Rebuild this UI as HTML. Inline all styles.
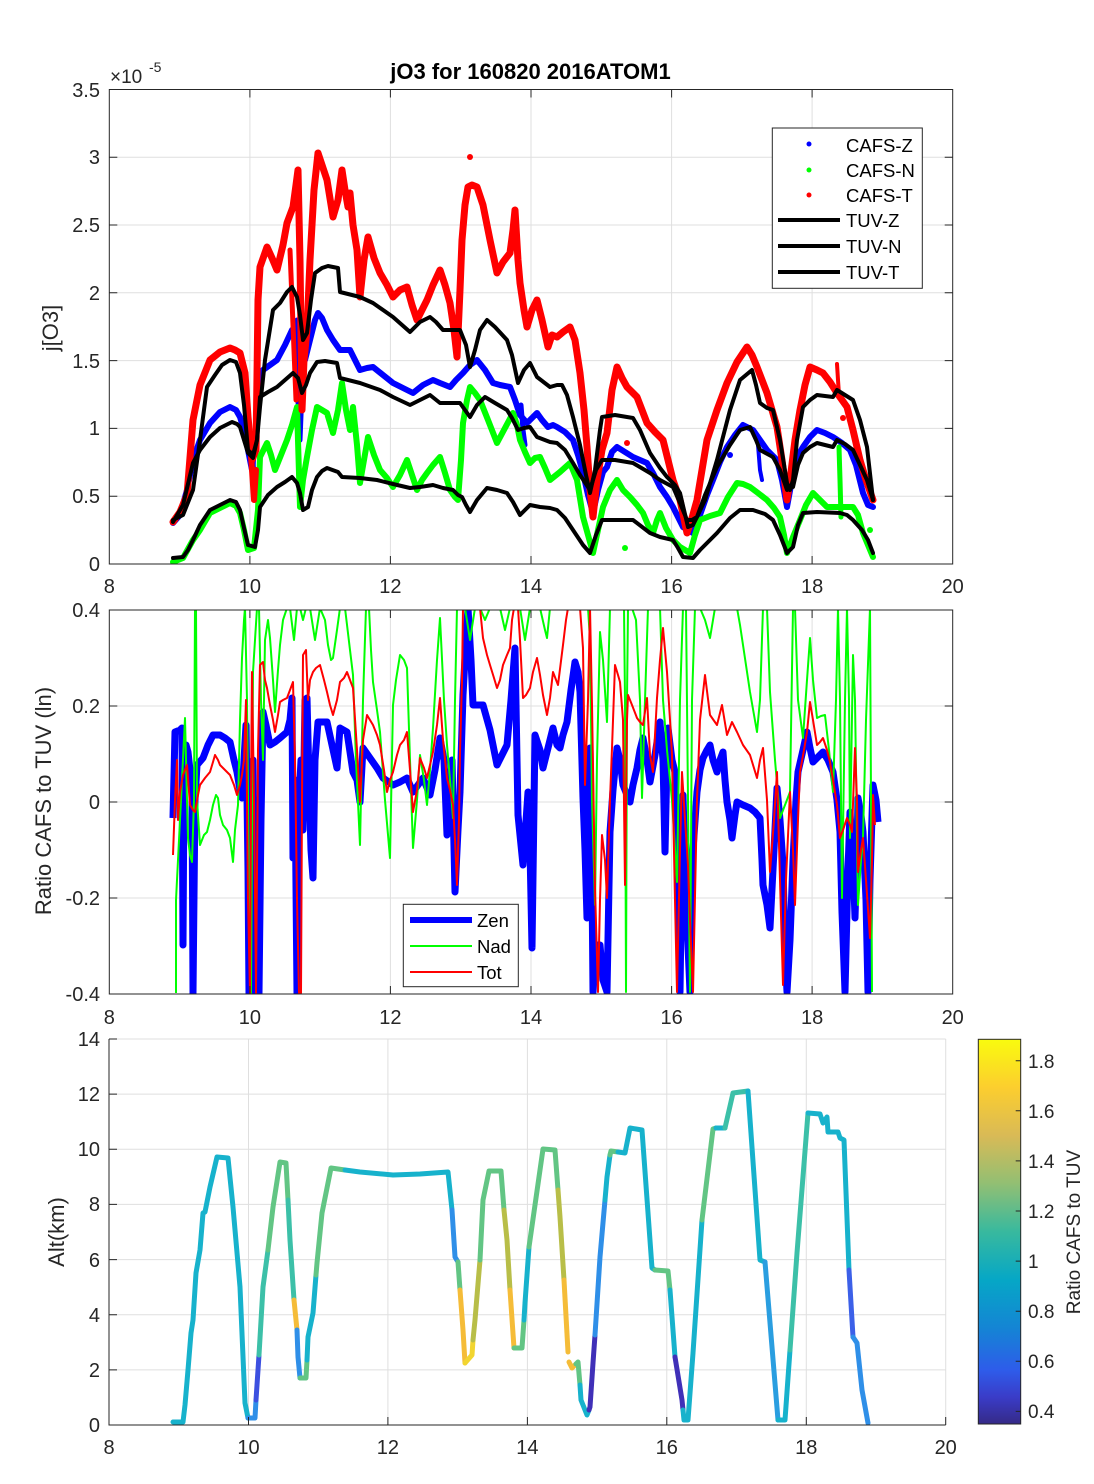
<!DOCTYPE html>
<html><head><meta charset="utf-8"><style>html,body{margin:0;padding:0;background:#fff}svg{display:block}</style></head>
<body>
<svg width="1094" height="1484" viewBox="0 0 1094 1484" xmlns="http://www.w3.org/2000/svg" font-family="'Liberation Sans', Arial, sans-serif">
<defs>
<clipPath id="c1"><rect x="109.3" y="89.5" width="843.4" height="474.5"/></clipPath>
<clipPath id="c2"><rect x="109.3" y="610" width="843.4" height="384"/></clipPath>
<linearGradient id="par" x1="0" y1="1" x2="0" y2="0">
<stop offset="0" stop-color="#352a87"/><stop offset="0.07" stop-color="#3a3cc8"/><stop offset="0.14" stop-color="#2e5cea"/><stop offset="0.25" stop-color="#1485d4"/><stop offset="0.375" stop-color="#06a7c6"/><stop offset="0.5" stop-color="#38b99e"/><stop offset="0.625" stop-color="#92bf73"/><stop offset="0.75" stop-color="#d9ba56"/><stop offset="0.875" stop-color="#fcce2e"/><stop offset="1" stop-color="#f9fb0e"/>
</linearGradient>
</defs>
<rect width="1094" height="1484" fill="#fff"/>

<!-- ===== PANEL 1 ===== -->
<g stroke="#dfdfdf" stroke-width="1">
<line x1="249.9" y1="89.5" x2="249.9" y2="564"/><line x1="390.4" y1="89.5" x2="390.4" y2="564"/><line x1="531" y1="89.5" x2="531" y2="564"/><line x1="671.6" y1="89.5" x2="671.6" y2="564"/><line x1="812.1" y1="89.5" x2="812.1" y2="564"/>
<line x1="109.3" y1="496.2" x2="952.7" y2="496.2"/><line x1="109.3" y1="428.4" x2="952.7" y2="428.4"/><line x1="109.3" y1="360.6" x2="952.7" y2="360.6"/><line x1="109.3" y1="292.8" x2="952.7" y2="292.8"/><line x1="109.3" y1="225" x2="952.7" y2="225"/><line x1="109.3" y1="157.3" x2="952.7" y2="157.3"/>
</g>
<g clip-path="url(#c1)" fill="none" stroke-linejoin="round" stroke-linecap="round">
<polyline stroke="#0000ff" stroke-width="6" points="173,523 180,515 187,490 193,460 200,440 210,423 220,412 230,407 236,410 240,417 244,430 248,450 252,470 256,430 260,385 263,370 270,365 277,360 285,345 292,330 296,340 300,350 305,360 310,340 315,320 318,313 322,318 327,330 333,340 340,350 350,350 355,360 360,370 367,368 373,367 383,375 393,383 403,388 413,393 423,385 433,380 440,383 450,387 456,380 463,373 470,365 477,360 485,370 493,383 500,385 510,387 515,400 520,415 527,423 532,418 537,413 542,420 548,427 553,425 557,427 565,432 573,440 578,455 583,473 588,495 593,513 598,490 603,472 607,467 612,452 617,447 625,452 633,457 640,460 647,463 653,473 660,487 667,497 673,507 678,517 683,527 688,530 693,533 700,515 707,495 713,480 720,462 727,447 735,435 743,425 753,430 760,440 767,450 772,455 777,460 782,480 787,507 792,480 797,457 803,447 810,437 817,430 825,433 833,437 842,443 850,450 856,465 863,493 868,505 873,507"/>
<polyline stroke="#0000ff" stroke-width="5" points="297,320 298,400 300,440 302,390 304,330"/>
<polyline stroke="#0000ff" stroke-width="5" points="252,440 254,480 256,500"/>
<polyline stroke="#0000ff" stroke-width="5" points="521,405 523,430 525,445"/>
<polyline stroke="#0000ff" stroke-width="4" points="758,445 760,470 762,480"/>
<polyline stroke="#00ff00" stroke-width="6" points="173,562 183,558 193,540 200,530 210,513 220,508 230,503 236,506 240,513 244,530 248,550 254,548 258,510 260,457 267,443 271,455 275,470 281,455 287,440 292,425 297,407 300,507 303,480 307,457 312,430 317,407 322,410 327,413 333,433 338,410 342,383 346,410 350,430 353,407 357,445 360,483 364,460 368,437 374,455 380,470 387,478 393,487 400,475 407,460 412,475 417,490 422,480 427,473 433,465 440,457 445,473 450,490 455,497 458,500 461,460 463,423 467,400 470,387 475,393 480,400 488,420 497,443 505,428 513,413 517,425 520,440 525,452 530,463 535,458 540,457 545,468 550,480 560,472 570,463 577,480 583,517 588,535 593,553 598,530 603,507 610,490 617,480 623,490 630,497 637,505 643,513 648,525 653,533 657,520 660,513 666,528 673,540 680,547 690,553 695,535 700,520 710,516 720,513 728,497 737,483 743,484 750,487 758,493 767,500 774,508 780,517 784,535 787,553 793,537 800,520 806,505 813,493 820,500 827,507 840,507 853,507 858,515 863,533 868,545 873,557"/>
<polyline stroke="#00ff00" stroke-width="5" points="839,447 840,480 841,517"/>
<polyline stroke="#ff0000" stroke-width="7" points="173,522 180,512 187,495 193,420 200,385 210,360 220,352 230,348 235,350 240,353 245,373 248,417 252,460 256,450 258,300 260,267 267,247 272,258 277,270 283,245 287,223 293,207 296,185 298,170 300,260 302,410 304,360 307,330 310,260 314,190 318,153 322,165 327,180 333,217 338,200 342,170 345,190 348,207 350,193 353,225 357,250 360,297 364,260 368,237 374,258 380,273 387,285 393,297 400,290 407,287 412,305 417,320 422,310 427,300 433,285 440,270 445,285 450,303 454,330 457,357 460,290 462,240 465,205 468,187 472,185 477,187 483,205 490,240 497,273 503,262 510,253 513,230 515,210 518,260 520,283 524,310 527,327 532,310 537,300 542,320 548,347 552,335 557,337 563,332 570,327 575,340 580,373 584,410 587,447 590,490 593,517 597,480 602,450 607,433 612,390 617,367 622,378 627,387 637,397 647,423 655,432 663,440 668,460 673,480 680,500 687,533 692,518 697,500 702,470 707,440 717,410 727,383 737,362 747,347 752,355 757,367 762,380 767,393 772,410 777,427 782,460 787,500 790,480 795,440 800,410 805,385 810,367 817,370 823,373 830,382 837,393 847,407 853,430 860,460 866,480 873,500"/>
<polyline stroke="#ff0000" stroke-width="6" points="250,440 252,470 254,500 256,470"/>
<polyline stroke="#ff0000" stroke-width="5" points="290,250 292,300 294,350 296,400"/>
<polyline stroke="#ff0000" stroke-width="4" points="837,364 838,380 839,395"/>
<circle cx="470" cy="157" r="3" fill="#ff0000" stroke="none"/>
<circle cx="627" cy="443" r="3" fill="#ff0000" stroke="none"/>
<circle cx="843" cy="418" r="3" fill="#ff0000" stroke="none"/>
<circle cx="625" cy="548" r="3" fill="#00ff00" stroke="none"/>
<circle cx="870" cy="530" r="3" fill="#00ff00" stroke="none"/>
<circle cx="730" cy="455" r="3" fill="#0000ff" stroke="none"/>
<polyline stroke="#000" stroke-width="4" points="173,520 183,515 193,490 200,440 207,387 215,375 222,365 230,360 236,362 240,373 244,405 248,450 253,455 257,440 260,407 265,360 273,310 280,303 287,292 292,287 297,297 300,315 303,340 307,333 311,300 315,273 322,268 328,266 338,268 340,292 360,297 373,303 393,317 410,332 420,322 430,317 436,322 443,330 460,330 466,345 470,367 475,350 480,330 487,320 495,327 507,340 512,355 518,383 524,370 530,363 537,377 550,387 557,385 562,385 567,395 573,417 580,445 586,475 590,493 595,470 600,430 602,417 615,415 633,418 640,430 650,453 660,468 667,477 675,485 680,493 684,510 688,527 693,525 697,517 705,500 717,460 730,410 740,380 746,375 752,370 756,385 760,403 767,408 773,410 780,440 787,483 790,490 793,480 797,440 803,407 810,400 817,395 833,397 837,390 845,395 853,400 860,420 867,447 873,500"/>
<polyline stroke="#000" stroke-width="4" points="173,522 183,505 193,463 200,450 210,437 220,428 232,422 237,424 240,427 244,440 248,453 253,458 257,440 260,397 268,392 277,387 285,380 293,373 298,378 302,393 306,385 310,373 317,362 325,361 337,363 340,378 360,383 380,390 393,397 410,405 420,400 430,395 440,403 460,403 465,410 470,417 477,405 485,397 495,403 507,410 512,418 518,430 524,428 530,427 537,437 550,442 557,443 565,450 573,463 580,475 590,490 596,470 602,460 615,460 633,463 650,473 660,480 673,487 680,503 687,520 692,520 697,517 705,495 717,467 730,445 740,430 750,427 756,440 760,450 773,457 780,470 787,490 793,487 798,465 803,453 810,447 817,443 833,447 837,440 845,444 853,450 860,465 867,480 873,500"/>
<polyline stroke="#000" stroke-width="4" points="173,558 183,557 188,550 193,540 200,525 210,510 220,505 230,500 236,502 240,510 244,528 248,545 255,547 258,530 260,507 268,495 277,487 285,482 292,477 297,483 300,493 303,510 308,507 312,490 317,477 322,471 327,468 338,472 342,477 360,478 377,480 393,484 410,488 420,487 433,485 443,488 453,490 458,495 462,497 466,505 470,512 477,500 487,488 497,490 507,493 513,502 520,515 525,510 530,505 540,507 550,508 557,510 565,518 573,530 583,545 590,553 596,535 602,520 633,520 650,533 660,537 673,540 678,548 683,557 693,558 700,550 717,533 730,518 740,510 753,510 765,514 773,520 780,535 787,553 793,547 798,525 803,513 817,512 840,513 847,515 853,520 862,530 868,540 873,553"/>
</g>
<g stroke="#262626" stroke-width="1" fill="none">
<rect x="109.3" y="89.5" width="843.4" height="474.5"/>
<path d="M249.9,564v-8M390.4,564v-8M531,564v-8M671.6,564v-8M812.1,564v-8M249.9,89.5v8M390.4,89.5v8M531,89.5v8M671.6,89.5v8M812.1,89.5v8M109.3,496.2h8M109.3,428.4h8M109.3,360.6h8M109.3,292.8h8M109.3,225h8M109.3,157.3h8M952.7,496.2h-8M952.7,428.4h-8M952.7,360.6h-8M952.7,292.8h-8M952.7,225h-8M952.7,157.3h-8"/>
</g>
<g fill="#262626" font-size="20" text-anchor="end">
<text x="100" y="571">0</text><text x="100" y="503">0.5</text><text x="100" y="435">1</text><text x="100" y="368">1.5</text><text x="100" y="300">2</text><text x="100" y="232">2.5</text><text x="100" y="164">3</text><text x="100" y="97">3.5</text>
</g>
<g fill="#262626" font-size="20" text-anchor="middle">
<text x="109.3" y="593">8</text><text x="249.9" y="593">10</text><text x="390.4" y="593">12</text><text x="531" y="593">14</text><text x="671.6" y="593">16</text><text x="812.1" y="593">18</text><text x="952.7" y="593">20</text>
</g>
<text x="110" y="83" font-size="19" fill="#262626">×10</text>
<text x="149" y="72" font-size="14" fill="#262626">-5</text>
<text x="530.5" y="79" font-size="22" font-weight="bold" text-anchor="middle" fill="#000">jO3 for 160820 2016ATOM1</text>
<text transform="translate(58,328) rotate(-90)" font-size="22" text-anchor="middle" fill="#262626">j[O3]</text>
<!-- legend 1 -->
<rect x="772.3" y="128" width="150" height="160.3" fill="#fff" stroke="#262626" stroke-width="1"/>
<circle cx="809" cy="144" r="2.5" fill="#0000ff"/><circle cx="809" cy="170" r="2.5" fill="#00ff00"/><circle cx="809" cy="195" r="2.5" fill="#ff0000"/>
<g stroke="#000" stroke-width="4"><line x1="778" y1="220" x2="840" y2="220"/><line x1="778" y1="246" x2="840" y2="246"/><line x1="778" y1="272" x2="840" y2="272"/></g>
<g font-size="18.5" fill="#000"><text x="846" y="152">CAFS-Z</text><text x="846" y="177">CAFS-N</text><text x="846" y="202">CAFS-T</text><text x="846" y="227">TUV-Z</text><text x="846" y="253">TUV-N</text><text x="846" y="279">TUV-T</text></g>

<!-- ===== PANEL 2 ===== -->
<g stroke="#dfdfdf" stroke-width="1">
<line x1="249.9" y1="610" x2="249.9" y2="994"/><line x1="390.4" y1="610" x2="390.4" y2="994"/><line x1="531" y1="610" x2="531" y2="994"/><line x1="671.6" y1="610" x2="671.6" y2="994"/><line x1="812.1" y1="610" x2="812.1" y2="994"/>
<line x1="109.3" y1="706" x2="952.7" y2="706"/><line x1="109.3" y1="802" x2="952.7" y2="802"/><line x1="109.3" y1="898" x2="952.7" y2="898"/>
</g>
<g clip-path="url(#c2)" fill="none" stroke-linejoin="round">
<polyline stroke="#0000ff" stroke-width="7" points="173,818 175,732 180,730 182,728 183,945 184,780 186,745 188,752 190,770 192,782 193,993 195,800 197,765 203,758 208,745 213,735 220,735 225,738 230,742 234,760 237,772 240,790 242,798 244,760 246,725 248,870 249,993 251,850 253,760 255,993 257,800 259,993 261,820 263,712 266,725 270,745 275,742 280,738 287,732 290,720 292,698 293,858 295,780 297,993 299,800 301,760 303,830 305,700 307,698 309,780 311,850 313,878 315,760 318,722 327,722 332,745 337,768 340,728 347,732 353,772 357,780 360,802 363,748 370,758 377,768 383,778 393,785 400,782 407,778 413,792 418,785 423,778 430,795 435,770 440,738 444,760 447,835 450,790 452,760 455,892 458,830 460,792 463,695 466,640 468,608 471,660 473,705 483,705 490,730 497,765 502,755 507,745 511,700 515,648 518,815 523,865 528,792 530,850 532,948 535,735 540,750 543,768 548,748 553,728 557,745 560,748 563,735 567,722 571,690 575,662 578,672 580,692 583,798 585,850 587,918 589,800 590,748 592,880 593,992 596,945 600,945 603,980 607,992 610,832 613,790 617,748 620,760 623,785 627,795 630,802 633,785 637,768 640,750 643,738 647,760 650,782 655,755 660,722 663,760 665,852 667,760 668,728 672,760 675,772 678,900 680,992 682,850 683,795 686,900 690,992 693,850 697,792 700,770 703,758 707,750 710,745 713,760 717,772 720,760 723,752 725,780 727,802 730,820 732,838 735,815 737,802 743,805 750,808 755,812 760,818 762,860 763,885 767,905 770,928 774,850 777,788 780,820 783,865 785,950 787,992 790,940 793,860 796,800 798,772 803,750 807,732 810,748 813,762 818,757 823,752 828,760 833,772 837,800 840,832 842,912 845,992 848,870 850,812 853,860 855,918 857,850 858,798 861,815 863,832 866,900 868,992 870,880 873,785 876,800 878,822"/>
<polyline stroke="#00ff00" stroke-width="2" points="176,993 176,900 178,860 181,800 185,718 187,800 188,838 190,855 192,862 194,800 195,608 196,608 197,800 200,845 204,835 207,832 210,820 213,805 216,795 218,798 220,815 223,825 227,830 230,838 233,862 235,830 238,805 240,720 242,658 244,620 245,608 247,700 249,900 251,993 253,672 255,640 257,608 259,608 261,700 263,760 265,640 268,620 270,638 273,680 275,712 278,670 280,645 283,620 287,608 290,608 294,640 297,608 300,608 303,620 306,608 310,608 315,640 320,608 325,620 328,645 331,660 333,658 337,630 340,608 345,608 350,650 353,675 356,760 360,845 363,700 366,608 369,608 371,650 373,682 377,710 380,732 385,800 390,858 393,705 396,680 400,655 404,660 407,668 410,760 413,848 417,800 420,755 424,780 427,805 430,770 433,728 437,660 440,618 444,700 447,745 450,780 453,818 455,700 457,608 465,608 470,640 475,608 480,608 485,620 490,608 500,608 505,630 510,608 520,608 525,640 530,608 540,608 545,630 547,638 550,608 560,608 570,608 580,608 588,608 590,640 592,800 595,905 597,760 600,632 603,660 607,722 610,608 616,608 620,608 624,608 625,700 626,992 627,700 628,608 632,608 636,620 640,700 642,798 645,700 648,608 655,608 660,608 663,700 667,750 672,800 677,882 680,700 683,608 686,608 690,992 692,700 695,608 700,608 705,620 710,638 715,608 720,608 730,608 737,608 740,625 743,645 750,692 757,732 760,700 763,608 767,608 770,692 775,760 780,818 785,805 790,792 793,608 795,608 798,700 803,738 807,680 810,638 813,680 817,718 821,716 825,715 829,750 833,792 836,700 838,608 840,700 842,898 845,700 847,608 849,700 850,838 853,655 855,700 858,905 861,860 863,838 866,720 870,608 871,800 872,992"/>
<polyline stroke="#ff0000" stroke-width="2" points="173,855 175,800 177,760 178,820 180,792 183,775 187,765 190,805 193,810 195,812 198,795 200,785 205,778 210,772 213,762 215,755 218,760 220,765 225,770 230,775 234,785 237,795 240,785 242,775 244,760 246,700 248,900 250,993 251,800 252,672 254,800 256,993 258,750 260,665 263,662 265,680 267,688 270,705 273,720 275,732 278,715 280,702 283,700 287,698 290,690 293,682 295,760 297,900 299,993 301,993 302,800 303,655 306,650 308,700 310,680 313,672 316,668 320,665 324,680 327,692 330,705 333,715 337,700 340,682 344,678 347,672 350,680 353,688 357,750 360,802 363,740 367,715 370,720 373,725 377,735 380,745 384,770 387,792 390,780 393,772 397,755 400,745 404,740 407,732 410,770 413,812 417,790 420,758 424,768 427,778 430,765 433,752 437,725 440,698 443,740 447,778 450,790 453,805 455,840 457,885 459,820 460,752 462,680 463,608 468,608 472,608 476,608 480,608 483,638 487,655 490,665 494,678 497,688 500,680 503,665 507,655 510,648 512,620 514,608 518,608 520,640 523,698 526,695 530,688 533,672 537,658 540,675 543,695 547,715 550,698 553,672 558,685 563,645 566,620 568,608 580,608 583,648 585,785 588,700 590,608 592,705 595,888 598,992 600,900 602,835 605,860 607,898 610,800 612,748 615,665 618,675 620,682 623,720 625,885 627,720 628,695 632,705 637,718 640,722 643,725 647,698 650,755 653,772 657,698 660,660 663,628 667,672 670,720 672,755 675,900 677,992 680,850 682,772 685,820 688,865 690,920 693,992 697,800 700,720 705,675 710,715 717,725 722,705 727,735 732,722 737,732 743,745 750,755 757,778 760,760 763,748 767,800 770,872 774,820 777,772 780,880 783,985 786,880 790,792 793,850 795,905 798,820 800,772 804,750 807,732 810,702 813,720 817,745 820,742 823,738 827,750 830,762 833,780 837,805 840,838 843,830 847,818 850,825 852,832 855,748 857,800 858,872 861,850 863,838 866,880 870,938 872,860 873,795 875,825"/>
</g>
<g stroke="#262626" stroke-width="1" fill="none">
<rect x="109.3" y="610" width="843.4" height="384"/>
<path d="M249.9,994v-8M390.4,994v-8M531,994v-8M671.6,994v-8M812.1,994v-8M249.9,610v8M390.4,610v8M531,610v8M671.6,610v8M812.1,610v8M109.3,706h8M109.3,802h8M109.3,898h8M952.7,706h-8M952.7,802h-8M952.7,898h-8"/>
</g>
<g fill="#262626" font-size="20" text-anchor="end">
<text x="100" y="617">0.4</text><text x="100" y="713">0.2</text><text x="100" y="809">0</text><text x="100" y="905">-0.2</text><text x="100" y="1001">-0.4</text>
</g>
<g fill="#262626" font-size="20" text-anchor="middle">
<text x="109.3" y="1024">8</text><text x="249.9" y="1024">10</text><text x="390.4" y="1024">12</text><text x="531" y="1024">14</text><text x="671.6" y="1024">16</text><text x="812.1" y="1024">18</text><text x="952.7" y="1024">20</text>
</g>
<text transform="translate(51,801) rotate(-90)" font-size="22" text-anchor="middle" fill="#262626">Ratio CAFS to TUV (ln)</text>
<!-- legend 2 -->
<rect x="403.3" y="904.3" width="115" height="82.4" fill="#fff" stroke="#262626" stroke-width="1"/>
<line x1="410" y1="920" x2="472" y2="920" stroke="#0000ff" stroke-width="6"/>
<line x1="410" y1="946" x2="472" y2="946" stroke="#00ff00" stroke-width="2"/>
<line x1="410" y1="972" x2="472" y2="972" stroke="#ff0000" stroke-width="2"/>
<g font-size="18.5" fill="#000"><text x="477" y="927">Zen</text><text x="477" y="953">Nad</text><text x="477" y="979">Tot</text></g>

<!-- ===== PANEL 3 ===== -->
<g stroke="#dfdfdf" stroke-width="1">
<line x1="248.5" y1="1039" x2="248.5" y2="1425"/><line x1="387.9" y1="1039" x2="387.9" y2="1425"/><line x1="527.4" y1="1039" x2="527.4" y2="1425"/><line x1="666.8" y1="1039" x2="666.8" y2="1425"/><line x1="806.3" y1="1039" x2="806.3" y2="1425"/><line x1="945.7" y1="1039" x2="945.7" y2="1425"/>
<line x1="109" y1="1369.9" x2="945.7" y2="1369.9"/><line x1="109" y1="1314.7" x2="945.7" y2="1314.7"/><line x1="109" y1="1259.6" x2="945.7" y2="1259.6"/><line x1="109" y1="1204.4" x2="945.7" y2="1204.4"/><line x1="109" y1="1149.3" x2="945.7" y2="1149.3"/><line x1="109" y1="1094.1" x2="945.7" y2="1094.1"/><line x1="109" y1="1039" x2="945.7" y2="1039"/>
</g>
<g fill="none" stroke-width="5" stroke-linejoin="round" stroke-linecap="round">
<polyline stroke="#17b2cc" points="173,1422 183,1422 185,1405 188,1370 191,1333 193,1320 196,1273 200,1250 203,1213 205,1212 210,1187 217,1157 228,1158 233,1207 240,1287 245,1403 248,1418"/>
<polyline stroke="#2f8fe8" points="248,1418 255,1418 256,1400"/>
<polyline stroke="#3c50e0" points="256,1400 258,1370 259,1355"/>
<polyline stroke="#3cc0a8" points="259,1355 263,1287 268,1250"/>
<polyline stroke="#62c584" points="268,1250 273,1207 280,1162 286,1163 288,1200"/>
<polyline stroke="#3cc0a8" points="288,1200 290,1240 294,1300"/>
<polyline stroke="#f5bc38" points="294,1300 297,1330"/>
<polyline stroke="#2f8fe8" points="297,1330 298,1357 300,1378"/>
<polyline stroke="#62c584" points="300,1378 306,1378 307,1360"/>
<polyline stroke="#17b2cc" points="307,1360 308,1337 313,1313 316,1275"/>
<polyline stroke="#62c584" points="316,1275 317,1263 322,1213 331,1168 345,1170"/>
<polyline stroke="#17b2cc" points="345,1170 360,1172 393,1175 420,1174 448,1172 452,1210"/>
<polyline stroke="#2f8fe8" points="452,1210 455,1257 458,1262"/>
<polyline stroke="#62c584" points="458,1262 460,1290"/>
<polyline stroke="#f5bc38" points="460,1290 463,1330 465,1363"/>
<polyline stroke="#f2d530" points="465,1363 472,1355 473,1340"/>
<polyline stroke="#b8be48" points="473,1340 475,1320 480,1260"/>
<polyline stroke="#62c584" points="480,1260 483,1200 489,1171 501,1171 504,1210"/>
<polyline stroke="#b8be48" points="504,1210 507,1240 510,1290"/>
<polyline stroke="#f5bc38" points="510,1290 514,1348"/>
<polyline stroke="#62c584" points="514,1348 522,1348 524,1320"/>
<polyline stroke="#17b2cc" points="524,1320 525,1303 529,1247"/>
<polyline stroke="#62c584" points="529,1247 543,1149 555,1150 558,1190"/>
<polyline stroke="#b8be48" points="558,1190 560,1217 564,1280"/>
<polyline stroke="#f5bc38" points="564,1280 568,1352"/>
<polyline stroke="#f5bc38" points="569,1362 572,1368 576,1364"/>
<polyline stroke="#62c584" points="576,1364 578,1362 580,1385"/>
<polyline stroke="#17b2cc" points="580,1385 581,1400 587,1415 589,1410"/>
<polyline stroke="#4030b8" points="589,1410 590,1407 593,1363 595,1335"/>
<polyline stroke="#2f8fe8" points="595,1335 600,1257 605,1200"/>
<polyline stroke="#17b2cc" points="605,1200 607,1177 610,1155"/>
<polyline stroke="#62c584" points="610,1155 611,1151 618,1152"/>
<polyline stroke="#17b2cc" points="618,1152 625,1153 630,1128 642,1130 652,1268 655,1270"/>
<polyline stroke="#62c584" points="655,1270 668,1271 670,1290"/>
<polyline stroke="#17b2cc" points="670,1290 675,1357"/>
<polyline stroke="#4030b8" points="675,1357 682,1400 683,1410"/>
<polyline stroke="#17b2cc" points="683,1410 684,1420 688,1420 693,1353 702,1220"/>
<polyline stroke="#62c584" points="702,1220 713,1129 716,1128"/>
<polyline stroke="#17b2cc" points="716,1128 725,1128"/>
<polyline stroke="#3cc0a8" points="725,1128 733,1093 748,1091"/>
<polyline stroke="#17b2cc" points="748,1091 760,1260 765,1262"/>
<polyline stroke="#2a9ee0" points="765,1262 778,1420"/>
<polyline stroke="#17b2cc" points="778,1420 785,1420 790,1350"/>
<polyline stroke="#3cc0a8" points="790,1350 797,1253 808,1113"/>
<polyline stroke="#17b2cc" points="808,1113 820,1114 823,1123 827,1117 828,1132 838,1132 840,1138 844,1140 849,1270"/>
<polyline stroke="#3c60e8" points="849,1270 853,1337"/>
<polyline stroke="#2f8fe8" points="853,1337 857,1343 862,1390 868,1423"/>
</g>
<g stroke="#262626" stroke-width="1" fill="none">
<path d="M109,1039V1425H945.7"/>
<path d="M248.5,1425v-8M387.9,1425v-8M527.4,1425v-8M666.8,1425v-8M806.3,1425v-8M945.7,1425v-8M109,1369.9h8M109,1314.7h8M109,1259.6h8M109,1204.4h8M109,1149.3h8M109,1094.1h8M109,1039h8"/>
</g>
<g fill="#262626" font-size="20" text-anchor="end">
<text x="100" y="1432">0</text><text x="100" y="1377">2</text><text x="100" y="1322">4</text><text x="100" y="1267">6</text><text x="100" y="1211">8</text><text x="100" y="1156">10</text><text x="100" y="1101">12</text><text x="100" y="1046">14</text>
</g>
<g fill="#262626" font-size="20" text-anchor="middle">
<text x="109" y="1454">8</text><text x="248.5" y="1454">10</text><text x="387.9" y="1454">12</text><text x="527.4" y="1454">14</text><text x="666.8" y="1454">16</text><text x="806.3" y="1454">18</text><text x="945.7" y="1454">20</text>
</g>
<text transform="translate(64,1232) rotate(-90)" font-size="22" text-anchor="middle" fill="#262626">Alt(km)</text>
<!-- colorbar -->
<rect x="978.3" y="1039.3" width="42.4" height="384.7" fill="url(#par)" stroke="#262626" stroke-width="1"/>
<path d="M1020.7,1060.7h-5M1020.7,1110.8h-5M1020.7,1160.9h-5M1020.7,1211h-5M1020.7,1261.1h-5M1020.7,1311.2h-5M1020.7,1361.3h-5M1020.7,1411.4h-5" stroke="#262626" stroke-width="1"/>
<g fill="#262626" font-size="19">
<text x="1028" y="1068">1.8</text><text x="1028" y="1118">1.6</text><text x="1028" y="1168">1.4</text><text x="1028" y="1218">1.2</text><text x="1028" y="1268">1</text><text x="1028" y="1318">0.8</text><text x="1028" y="1368">0.6</text><text x="1028" y="1418">0.4</text>
</g>
<text transform="translate(1080,1232) rotate(-90)" font-size="19" text-anchor="middle" fill="#262626">Ratio CAFS to TUV</text>
</svg>
</body></html>
